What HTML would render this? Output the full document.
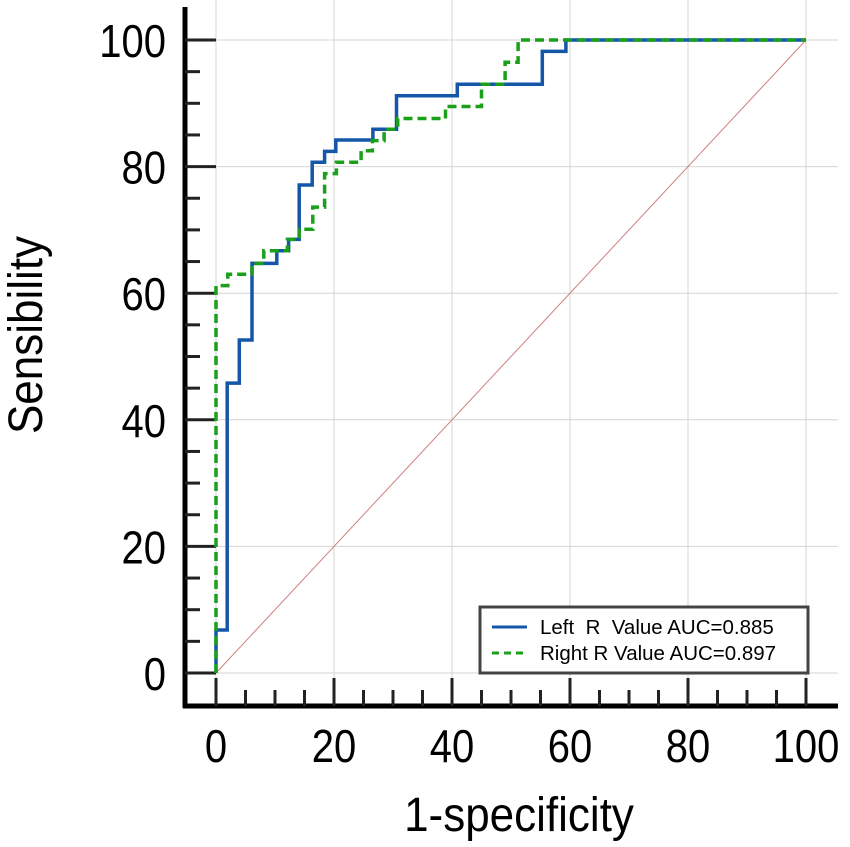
<!DOCTYPE html>
<html><head><meta charset="utf-8"><style>
html,body{margin:0;padding:0;background:#fff;}
svg{display:block;font-family:"Liberation Sans",Arial,sans-serif;}
</style></head><body>
<svg id="chart" width="850" height="847" viewBox="0 0 850 847"></svg>
<script>
const xTicks=[0,20,40,60,80,100];
const yTicks=[0,20,40,60,80,100];
const leftX=[0,0,1.9,1.9,3.95,3.95,6.1,6.1,10.3,10.3,12.3,12.3,14.1,14.1,16.3,16.3,18.4,18.4,20.3,20.3,26.6,26.6,30.6,30.6,40.9,40.9,55.3,55.3,59.3,59.3,100];
const leftY=[0,6.8,6.8,45.8,45.8,52.6,52.6,64.7,64.7,66.7,66.7,68.5,68.5,77.1,77.1,80.7,80.7,82.4,82.4,84.2,84.2,85.9,85.9,91.2,91.2,93.0,93.0,98.2,98.2,100,100];
const rightX=[0,0,2.0,2.0,6.1,6.1,8.1,8.1,12.1,12.1,14.1,14.1,16.4,16.4,18.4,18.4,20.4,20.4,24.6,24.6,26.5,26.5,28.5,28.5,30.8,30.8,38.9,38.9,45.0,45.0,49.0,49.0,51.2,51.2,100];
const rightY=[0,61.2,61.2,63.0,63.0,64.7,64.7,66.7,66.7,68.5,68.5,70.1,70.1,73.6,73.6,78.9,78.9,80.7,80.7,82.5,82.5,84.1,84.1,85.9,85.9,87.6,87.6,89.5,89.5,93.0,93.0,96.5,96.5,100,100];
const legendLabels=["Left  R  Value AUC=0.885","Right R Value AUC=0.897"];

const NS="http://www.w3.org/2000/svg";
const svg=document.getElementById('chart');
const X=v=>216+v*5.9;
const Y=v=>673-v*6.33;
function mk(tag,attrs,parent){const e=document.createElementNS(NS,tag);for(const k in attrs)e.setAttribute(k,attrs[k]);(parent||svg).appendChild(e);return e;}

yTicks.forEach(t=>{const l=mk('line',{x1:216,x2:838,y1:Y(t),y2:Y(t),stroke:'#d4d4d4','stroke-width':1});

});
xTicks.forEach(t=>{const l=mk('line',{x1:X(t),x2:X(t),y1:0,y2:706,stroke:'#d4d4d4','stroke-width':1});

});

const dg=mk('line',{x1:X(0),y1:Y(0),x2:X(100),y2:Y(100),stroke:'#d08080','stroke-width':1});



const ya=mk('line',{x1:185,x2:185,y1:7,y2:708,stroke:'#000','stroke-width':5});


const xa=mk('line',{x1:183,x2:838,y1:706,y2:706,stroke:'#000','stroke-width':5});



for(let v=0;v<=100;v+=5){const major=v%20===0;
const t=mk('line',{x1:185,x2:major?216:200,y1:Y(v),y2:Y(v),stroke:'#222','stroke-width':3});

}
yTicks.forEach(v=>{const t=mk('text',{x:0,y:0,'text-anchor':'end','font-size':40,fill:'#000',transform:`translate(166,${Y(v)+17}) scale(1,1.15)`});t.textContent=v;

});
for(let v=0;v<=100;v+=5){const major=v%20===0;
const t=mk('line',{x1:X(v),x2:X(v),y1:706,y2:major?678:690,stroke:'#222','stroke-width':3});

}
xTicks.forEach(v=>{const t=mk('text',{x:0,y:0,'text-anchor':'middle','font-size':40,fill:'#000',transform:`translate(${X(v)},762) scale(1,1.15)`});t.textContent=v;

});

const xt=mk('text',{x:0,y:0,'text-anchor':'middle','font-size':44,fill:'#000',transform:'translate(519,831) scale(1,1.1)'});xt.textContent='1-specificity';


const yt=mk('text',{x:0,y:0,'text-anchor':'middle','font-size':44,fill:'#000',transform:'translate(42,335) rotate(-90) scale(1,1.1)'});yt.textContent='Sensibility';



function path(xs,ys){return xs.map((v,i)=>(i?'L':'M')+X(v).toFixed(1)+','+Y(ys[i]).toFixed(1)).join(' ');}
const lc=mk('path',{d:path(leftX,leftY),fill:'none',stroke:'#1456a8','stroke-width':3.5});


const rc=mk('path',{d:path(rightX,rightY),fill:'none',stroke:'#1aa01a','stroke-width':3.5,'stroke-dasharray':'9,5'});



const lg=mk('g',{});


mk('rect',{x:480,y:607,width:328,height:66,fill:'#fff',stroke:'#444','stroke-width':3},lg);
const colors=['#1456a8','#1aa01a'];const dashes=['none','7,5'];
legendLabels.forEach((s,i)=>{const yy=627+i*26;
const ln=mk('line',{x1:492,x2:527,y1:yy,y2:yy,stroke:colors[i],'stroke-width':3,'stroke-dasharray':dashes[i]},lg);


const tx=mk('text',{x:540,y:yy+7,'font-size':20.5,fill:'#000','xml:space':'preserve'},lg);tx.textContent=s;tx.style.whiteSpace='pre';

});
</script>
</body></html>
